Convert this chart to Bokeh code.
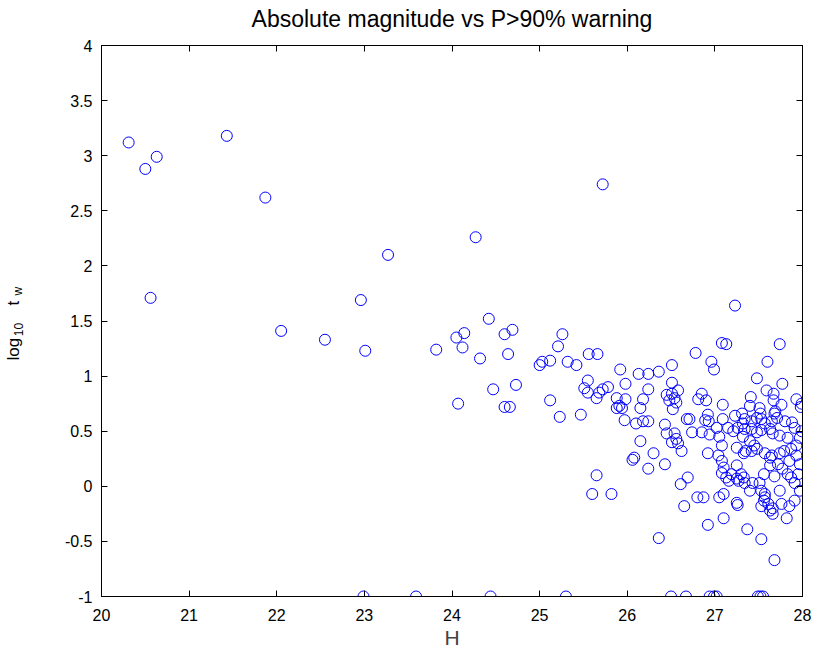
import math
from bokeh.plotting import figure
from bokeh.models import ColumnDataSource, LinearAxis, FixedTicker, Label, Range1d
from bokeh.embed import file_html
from bokeh.resources import INLINE

# ---------------- data ----------------
h_sparse = [20.31, 20.50, 20.63, 20.56, 21.43, 21.87, 22.05, 22.55, 22.96, 23.01,
            23.27, 23.82, 24.05, 24.12, 24.14, 24.27, 24.32, 24.42, 24.07, 24.47,
            24.60, 24.69, 24.64, 24.60, 24.66, 24.73, 25.00, 25.03, 25.12, 25.21,
            25.26, 25.32, 25.42, 25.12, 25.23, 25.47, 25.72, 27.23]
t_sparse = [3.12, 2.88, 2.99, 1.71, 3.18, 2.62, 1.41, 1.33, 1.69, 1.23,
            2.10, 1.24, 1.35, 1.26, 1.39, 2.26, 1.16, 1.52, 0.75, 0.88,
            1.38, 1.42, 1.20, 0.72, 0.72, 0.92, 1.10, 1.13, 1.14, 1.27,
            1.38, 1.13, 1.10, 0.78, 0.63, 0.65, 2.74, 1.64]

h_floor = [22.99, 23.59, 24.44, 25.30, 26.50, 26.67, 26.94, 26.99, 27.02, 27.49, 27.52, 27.55]
t_floor = [-1.0] * len(h_floor)

h_a = [25.56, 25.66, 25.92, 26.13, 26.24, 26.36, 26.51, 25.55, 25.51, 25.55,
       25.65, 25.68, 25.72, 25.78, 25.98, 26.24, 25.88, 25.98, 25.91, 25.88,
       25.94, 26.18, 26.15, 26.51, 26.58, 26.51, 26.45, 26.54, 26.48, 26.56,
       26.52, 25.97, 26.10, 26.18, 26.24, 26.43, 26.15, 26.45, 26.54, 26.56,
       26.51, 26.58, 26.68]
t_a = [1.20, 1.20, 1.06, 1.02, 1.02, 1.04, 1.10, 0.96, 0.89, 0.85,
       0.80, 0.85, 0.88, 0.90, 0.93, 0.88, 0.80, 0.79, 0.73, 0.71,
       0.71, 0.79, 0.71, 0.94, 0.87, 0.84, 0.83, 0.80, 0.78, 0.76,
       0.70, 0.60, 0.57, 0.59, 0.59, 0.56, 0.41, 0.48, 0.48, 0.43,
       0.40, 0.39, 0.61]

h_b = [26.08, 26.06, 26.30, 26.24, 26.43, 25.65, 25.60, 25.82, 26.36, 26.61,
       26.69, 26.65, 26.62]
t_b = [0.26, 0.24, 0.30, 0.16, 0.20, 0.10, -0.07, -0.07, -0.47, 0.02,
       0.08, -0.18, 0.32]

h_c = [27.08, 27.13, 27.74, 26.78, 26.96, 26.99, 27.60, 27.48, 27.77, 27.59,
       27.67, 26.85, 26.81, 26.90, 27.09, 27.41, 27.40, 27.51, 27.52, 27.67,
       27.76, 27.69, 27.93, 27.98, 27.99, 26.71, 26.92, 26.89, 26.93, 27.09,
       27.23, 27.31, 27.34, 27.32, 27.42, 27.48, 27.53, 27.57, 27.65, 27.71,
       27.68, 27.80, 27.88, 27.91, 27.99, 26.74, 26.85, 26.94, 27.02, 27.05,
       27.15, 27.21, 27.26, 27.34, 27.42, 27.48, 27.53, 27.63, 27.66, 27.74,
       27.83, 27.97, 27.32, 27.40]
t_c = [1.30, 1.29, 1.29, 1.21, 1.13, 1.06, 1.13, 0.98, 0.93, 0.87,
       0.84, 0.84, 0.79, 0.78, 0.74, 0.81, 0.73, 0.71, 0.66, 0.78,
       0.74, 0.68, 0.79, 0.72, 0.75, 0.61, 0.65, 0.60, 0.59, 0.61,
       0.64, 0.66, 0.61, 0.57, 0.59, 0.62, 0.61, 0.57, 0.59, 0.62,
       0.66, 0.59, 0.58, 0.53, 0.50, 0.49, 0.49, 0.47, 0.53, 0.45,
       0.53, 0.50, 0.53, 0.52, 0.52, 0.49, 0.51, 0.52, 0.48, 0.46,
       0.44, 0.44, 0.45, 0.41]

h_d = [26.92, 27.08, 27.25, 27.33, 27.42, 27.48, 27.57, 27.65, 27.74, 27.79,
       27.87, 27.93, 27.08, 27.10, 27.08, 27.13, 27.16, 27.19, 27.25, 27.25,
       27.30, 27.27, 27.33, 27.35, 27.34, 27.40, 27.43, 27.51, 27.56, 27.53,
       27.57, 27.56, 27.53, 27.61, 27.63, 27.66, 27.63, 27.63, 27.72, 27.77,
       27.83, 27.87, 27.91, 27.95, 27.97, 27.93, 27.85, 27.68, 26.80, 26.87,
       27.05, 27.10, 27.25, 27.26, 26.92, 27.10, 27.37, 27.53, 27.68, 27.82,
       27.85, 27.76, 27.66, 27.74, 27.97, 27.91, 27.45, 27.04, 27.57]
t_d = [0.30, 0.37, 0.35, 0.30, 0.32, 0.34, 0.30, 0.28, 0.30, 0.32,
       0.34, 0.37, 0.23, 0.17, 0.12, 0.08, 0.05, 0.11, 0.19, 0.07,
       0.11, 0.05, 0.08, 0.32, 0.03, -0.04, 0.03, 0.03, 0.11, -0.04,
       -0.07, -0.13, -0.18, -0.16, -0.22, -0.25, 0.19, 0.26, 0.20, 0.16,
       0.11, 0.08, 0.03, 0.11, 0.20, 0.28, 0.23, 0.09, -0.10, -0.10,
       -0.10, -0.07, -0.15, -0.17, -0.35, -0.29, -0.39, -0.48, -0.67, -0.29,
       -0.18, -0.16, -0.20, -0.04, -0.04, -0.13, 0.37, 0.28, -0.10]

x_ticks = [20, 21, 22, 23, 24, 25, 26, 27, 28]
y_ticks = [-1, -0.5, 0, 0.5, 1, 1.5, 2, 2.5, 3, 3.5, 4]
y_tick_labels = ["-1", "-0.5", "0", "0.5", "1", "1.5", "2", "2.5", "3", "3.5", "4"]
title_text = "Absolute magnitude vs P>90% warning"

h_all = h_sparse + h_floor + h_a + h_b + h_c + h_d
t_all = t_sparse + t_floor + t_a + t_b + t_c + t_d
source = ColumnDataSource(data=dict(h=h_all, log_tw=t_all))

# ---------------- figure ----------------
FONT = "Liberation Sans"
p = figure(width=812, height=652, output_backend="svg", toolbar_location=None,
           x_range=Range1d(20, 28), y_range=Range1d(-1, 4),
           min_border_left=101, min_border_right=10, min_border_top=45, min_border_bottom=56)

p.xgrid.visible = False
p.ygrid.visible = False
p.outline_line_color = "black"
p.outline_line_width = 1
p.background_fill_color = "white"
p.border_fill_color = "white"

def style_axis(ax, labels=True):
    ax.axis_line_color = "black"
    ax.major_tick_in = 6
    ax.major_tick_out = 0
    ax.minor_tick_in = 0
    ax.minor_tick_out = 0
    ax.major_tick_line_color = "black"
    ax.major_label_text_font = FONT
    ax.major_label_text_font_size = "16px" if labels else "1px"
    ax.major_label_text_color = "black" if labels else None

p.xaxis.ticker = FixedTicker(ticks=x_ticks)
p.yaxis.ticker = FixedTicker(ticks=y_ticks)
p.yaxis.major_label_overrides = {float(v): s for v, s in zip(y_ticks, y_tick_labels)}
style_axis(p.xaxis[0])
style_axis(p.yaxis[0])
p.xaxis.major_label_standoff = 12
p.yaxis.major_label_standoff = 9
p.xaxis.axis_label = "H"
p.xaxis.axis_label_text_font = FONT
p.xaxis.axis_label_text_font_size = "21px"
p.xaxis.axis_label_text_font_style = "normal"
p.xaxis.axis_label_standoff = 2

top_ax = LinearAxis(ticker=FixedTicker(ticks=x_ticks), major_label_standoff=0)
right_ax = LinearAxis(ticker=FixedTicker(ticks=y_ticks), major_label_standoff=0)
style_axis(top_ax, labels=False)
style_axis(right_ax, labels=False)
p.add_layout(top_ax, "above")
p.add_layout(right_ax, "right")

p.scatter(x="h", y="log_tw", source=source, marker="circle", size=11,
          fill_color=None, line_color="#0000ff", line_width=1)

# title, placed as a label in the top panel
p.add_layout(Label(x=24, y=4.245, text=title_text, text_font=FONT,
                   text_font_size="23px", text_align="center",
                   text_baseline="middle", text_color="black"), "above")

# y-axis label: log_10 t_w, built from rotated pieces placed in the left panel
ang = math.pi / 2
pieces = [
    ("log", 18.996, 1.142, "17px"),
    ("10", 19.05, 1.362, "12px"),
    ("t", 18.996, 1.641, "17px"),
    ("w", 19.05, 1.731, "12px"),
]
for txt, xx, yy, fs in pieces:
    p.add_layout(Label(x=xx, y=yy, text=txt, angle=ang, text_font=FONT,
                       text_font_size=fs, text_align="left",
                       text_baseline="alphabetic", text_color="black"), "left")

open("out.html", "w").write(file_html(p, INLINE))
